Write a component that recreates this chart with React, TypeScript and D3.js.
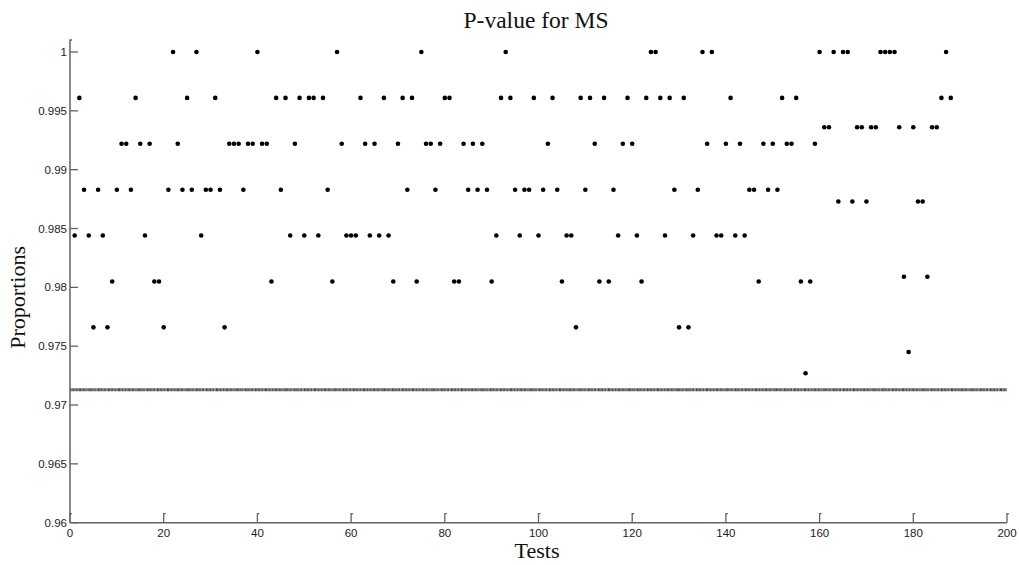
import React from "react";
import * as d3 from "d3";

// Proportion of passing sequences for each test (tests numbered from 1)
const proportions: number[] = [
  0.9844, 0.9961, 0.9883, 0.9844, 0.9766, 0.9883, 0.9844, 0.9766, 0.9805, 0.9883,
  0.9922, 0.9922, 0.9883, 0.9961, 0.9922, 0.9844, 0.9922, 0.9805, 0.9805, 0.9766,
  0.9883, 1.0, 0.9922, 0.9883, 0.9961, 0.9883, 1.0, 0.9844, 0.9883, 0.9883,
  0.9961, 0.9883, 0.9766, 0.9922, 0.9922, 0.9922, 0.9883, 0.9922, 0.9922, 1.0,
  0.9922, 0.9922, 0.9805, 0.9961, 0.9883, 0.9961, 0.9844, 0.9922, 0.9961, 0.9844,
  0.9961, 0.9961, 0.9844, 0.9961, 0.9883, 0.9805, 1.0, 0.9922, 0.9844, 0.9844,
  0.9844, 0.9961, 0.9922, 0.9844, 0.9922, 0.9844, 0.9961, 0.9844, 0.9805, 0.9922,
  0.9961, 0.9883, 0.9961, 0.9805, 1.0, 0.9922, 0.9922, 0.9883, 0.9922, 0.9961,
  0.9961, 0.9805, 0.9805, 0.9922, 0.9883, 0.9922, 0.9883, 0.9922, 0.9883, 0.9805,
  0.9844, 0.9961, 1.0, 0.9961, 0.9883, 0.9844, 0.9883, 0.9883, 0.9961, 0.9844,
  0.9883, 0.9922, 0.9961, 0.9883, 0.9805, 0.9844, 0.9844, 0.9766, 0.9961, 0.9883,
  0.9961, 0.9922, 0.9805, 0.9961, 0.9805, 0.9883, 0.9844, 0.9922, 0.9961, 0.9922,
  0.9844, 0.9805, 0.9961, 1.0, 1.0, 0.9961, 0.9844, 0.9961, 0.9883, 0.9766,
  0.9961, 0.9766, 0.9844, 0.9883, 1.0, 0.9922, 1.0, 0.9844, 0.9844, 0.9922,
  0.9961, 0.9844, 0.9922, 0.9844, 0.9883, 0.9883, 0.9805, 0.9922, 0.9883, 0.9922,
  0.9883, 0.9961, 0.9922, 0.9922, 0.9961, 0.9805, 0.9727, 0.9805, 0.9922, 1.0,
  0.9936, 0.9936, 1.0, 0.9873, 1.0, 1.0, 0.9873, 0.9936, 0.9936, 0.9873,
  0.9936, 0.9936, 1.0, 1.0, 1.0, 1.0, 0.9936, 0.9809, 0.9745, 0.9936,
  0.9873, 0.9873, 0.9809, 0.9936, 0.9936, 0.9961, 1.0, 0.9961,
];

// Minimum acceptable proportion
const threshold = 0.97129;

const xTicks: number[] = [0, 20, 40, 60, 80, 100, 120, 140, 160, 180, 200];
const yTicks: number[] = [0.96, 0.965, 0.97, 0.975, 0.98, 0.985, 0.99, 0.995, 1];
const yTickLabels: string[] = ["0.96", "0.965", "0.97", "0.975", "0.98", "0.985", "0.99", "0.995", "1"];

const thresholdColors: string[] = ["#3a4f90", "#3f7f38", "#983838", "#2f8080", "#7a3590", "#8c8630", "#444444"];

const W = 1019;
const H = 565;
const left = 70;
const right = 1007;
const top = 52;
const bottom = 522.7;

export default function App() {
  const x = d3.scaleLinear().domain([0, 200]).range([left, right]);
  const y = d3.scaleLinear().domain([0.96, 1]).range([bottom, top]);
  const axisColor = "#636363";
  const tickFont = "'Liberation Sans', Arial, sans-serif";
  const serif = "'Liberation Serif', 'Times New Roman', serif";

  const thrY = y(threshold);
  const thrLine = d3.line<number>().x((d) => x(d)).y(() => thrY)([0, 200]) || "";
  const seg = 1.4;
  const period = seg * thresholdColors.length;

  return (
    <svg
      width={W}
      height={H}
      style={{ position: "absolute", left: 0, top: 0, background: "#fff" }}
    >
      {/* title */}
      <text x={536} y={28} textAnchor="middle" fontFamily={serif} fontSize={23.5} fill="#111">
        P-value for MS
      </text>

      {/* threshold line drawn in interleaved colours */}
      {thresholdColors.map((c, i) => (
        <path
          key={c}
          d={thrLine}
          stroke={c}
          strokeWidth={3}
          fill="none"
          strokeDasharray={`${seg} ${period - seg}`}
          strokeDashoffset={-i * seg}
        />
      ))}

      {/* y axis */}
      <path d={`M${left},${bottom} V40 H${left + 2}`} stroke={axisColor} strokeWidth={1.5} fill="none" />
      {yTicks.map((t, i) => (
        <g key={t}>
          <line x1={left} x2={left + 8} y1={y(t)} y2={y(t)} stroke={axisColor} strokeWidth={1.3} />
          <text
            x={left - 3}
            y={y(t)}
            dy="0.36em"
            textAnchor="end"
            fontFamily={tickFont}
            fontSize={11.5}
            fill="#222"
          >
            {yTickLabels[i]}
          </text>
        </g>
      ))}

      {/* x axis */}
      <line x1={left} x2={right} y1={bottom} y2={bottom} stroke={axisColor} strokeWidth={1.5} />
      {xTicks.map((t) => (
        <g key={t}>
          <path
            d={`M${x(t)},${bottom} V${bottom - 9} H${x(t) + 2}`}
            stroke={axisColor}
            strokeWidth={1.3}
            fill="none"
          />
          <text x={x(t)} y={537} textAnchor="middle" fontFamily={tickFont} fontSize={11.5} fill="#222">
            {t}
          </text>
        </g>
      ))}

      {/* data points */}
      {proportions.map((p, i) => (
        <circle key={i} cx={x(i + 1)} cy={y(p)} r={2.3} fill="#000" />
      ))}

      {/* axis labels */}
      <text x={537} y={557.5} textAnchor="middle" fontFamily={serif} fontSize={22} fill="#111">
        Tests
      </text>
      <text
        transform={`translate(25,${(top + bottom) / 2 + 10}) rotate(-90)`}
        textAnchor="middle"
        fontFamily={serif}
        fontSize={22}
        fill="#111"
      >
        Proportions
      </text>
    </svg>
  );
}
